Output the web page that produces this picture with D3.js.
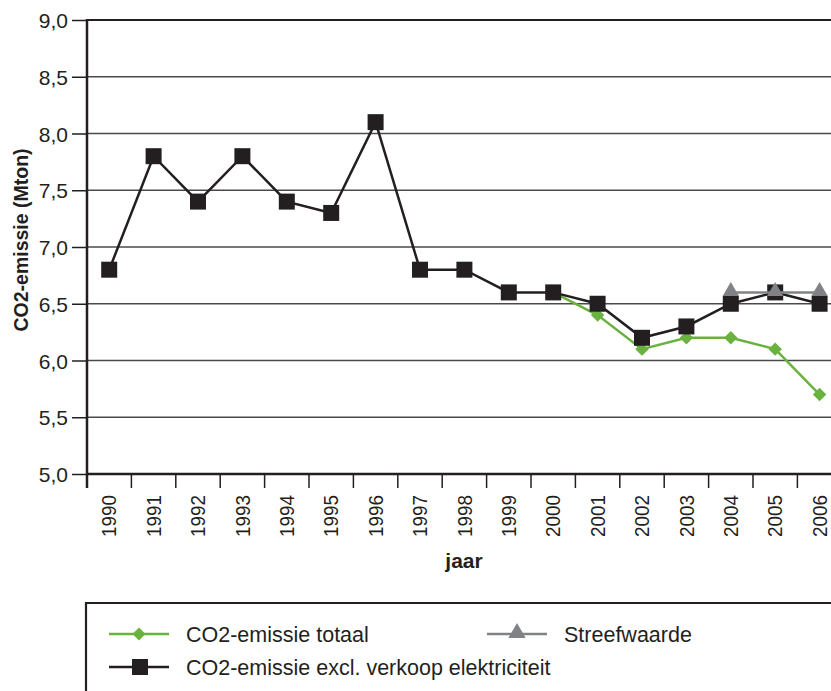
<!DOCTYPE html>
<html><head><meta charset="utf-8">
<script src="https://cdn.jsdelivr.net/npm/d3@7"></script>
<style>
body{margin:0;background:#fff;}
svg{display:block;}
</style></head>
<body>
<svg id="c" width="831" height="691"></svg>
<script>
const years = ["1990","1991","1992","1993","1994","1995","1996","1997","1998","1999","2000","2001","2002","2003","2004","2005","2006"];
const exclValues = [6.8,7.8,7.4,7.8,7.4,7.3,8.1,6.8,6.8,6.6,6.6,6.5,6.2,6.3,6.5,6.6,6.5];
const totaalYears = ["2000","2001","2002","2003","2004","2005","2006"];
const totaalValues = [6.6,6.4,6.1,6.2,6.2,6.1,5.7];
const streefYears = ["2004","2005","2006"];
const streefValues = [6.6,6.6,6.6];
const yTicks = [5.0,5.5,6.0,6.5,7.0,7.5,8.0,8.5,9.0];
const legendLabels = ["CO2-emissie totaal","Streefwaarde","CO2-emissie excl. verkoop elektriciteit"];

const svg = d3.select("#c");
const L = 87, T = 20, B = 474, bw = 44.4;
const x = d3.scaleBand().domain(years).range([L, L + bw*years.length]).padding(0);
const y = d3.scaleLinear().domain([5,9]).range([B, T]);
const font = "'Liberation Sans', Arial, Helvetica, sans-serif";
const dark = "#231f20";

// gridlines
svg.append("g").selectAll("line").data(yTicks.slice(1)).join("line")
  .attr("x1", L).attr("x2", 831).attr("y1", d=>y(d)).attr("y2", d=>y(d))
  .attr("stroke", "#4a4a4a").attr("stroke-width", 1.4);

// y axis
const ya = svg.append("g").attr("transform", `translate(${L},0)`)
  .call(d3.axisLeft(y).tickValues(yTicks).tickSize(15).tickPadding(4)
    .tickFormat(d => d3.format(".1f")(d).replace(".", ",")));
ya.attr("font-size", null).attr("font-family", null);
ya.select(".domain").remove();
ya.selectAll(".tick line").attr("stroke", dark).attr("stroke-width", 1.5);
ya.selectAll(".tick text").style("font-family", font).style("font-size", "21px").attr("fill", dark)
  .attr("dy", "0.36em");

// x axis labels
const xa = svg.append("g").attr("transform", `translate(0,${B})`)
  .call(d3.axisBottom(x).tickSize(0));
xa.attr("font-size", null).attr("font-family", null);
xa.select(".domain").remove();
xa.selectAll(".tick text")
  .style("font-family", font).style("font-size", "20px").attr("fill", dark)
  .attr("transform", "rotate(-90)")
  .attr("text-anchor", "end").attr("x", -21).attr("y", 0).attr("dy", "0.36em")
  .attr("textLength", 42).attr("lengthAdjust", "spacingAndGlyphs");
// x ticks at band boundaries
svg.append("g").selectAll("line").data(years.slice(1)).join("line")
  .attr("x1", d=>x(d)).attr("x2", d=>x(d)).attr("y1", B).attr("y2", B+14)
  .attr("stroke", dark).attr("stroke-width", 1.5);
svg.append("line").attr("x1", L).attr("x2", L).attr("y1", B).attr("y2", B+14)
  .attr("stroke", dark).attr("stroke-width", 2.5);

// axis frame
svg.append("line").attr("x1", L).attr("x2", L).attr("y1", T-1).attr("y2", B+1)
  .attr("stroke", dark).attr("stroke-width", 2.5);
svg.append("line").attr("x1", L).attr("x2", 831).attr("y1", B).attr("y2", B)
  .attr("stroke", dark).attr("stroke-width", 2.5);
svg.append("line").attr("x1", L).attr("x2", 831).attr("y1", T).attr("y2", T)
  .attr("stroke", dark).attr("stroke-width", 2);

// titles
svg.append("text").attr("x", 464).attr("y", 568).attr("text-anchor", "middle")
  .style("font-family", font).attr("font-weight", "bold").style("font-size", "21px")
  .attr("fill", dark).text("jaar");
svg.append("text").attr("transform", "translate(28,240) rotate(-90)")
  .attr("text-anchor", "middle")
  .style("font-family", font).attr("font-weight", "bold").style("font-size", "19.5px")
  .attr("fill", dark).text("CO2-emissie (Mton)");

const cx = d => x(d) + x.bandwidth()/2;
const line = d3.line().x(d => cx(d[0])).y(d => y(d[1]));
const green = "#6ab23e", gray = "#808285";

const totaal = totaalYears.map((d,i)=>[d, totaalValues[i]]);
const excl = years.map((d,i)=>[d, exclValues[i]]);
const streef = streefYears.map((d,i)=>[d, streefValues[i]]);

const sym = (type, size) => d3.symbol().type(type).size(size)();

// green series
svg.append("path").datum(totaal).attr("d", line).attr("fill","none").attr("stroke", green).attr("stroke-width", 2.5);
svg.append("g").selectAll("path").data(totaal).join("path")
  .attr("transform", d=>`translate(${cx(d[0])},${y(d[1])}) rotate(45)`)
  .attr("d", sym(d3.symbolSquare, 90)).attr("fill", green);

// black series
svg.append("path").datum(excl).attr("d", line).attr("fill","none").attr("stroke", dark).attr("stroke-width", 2.5);
svg.append("g").selectAll("path").data(excl).join("path")
  .attr("transform", d=>`translate(${cx(d[0])},${y(d[1])})`)
  .attr("d", sym(d3.symbolSquare, 256)).attr("fill", dark);

// gray series
svg.append("path").datum(streef).attr("d", line).attr("fill","none").attr("stroke", gray).attr("stroke-width", 2.5);
svg.append("g").selectAll("path").data(streef).join("path")
  .attr("transform", d=>`translate(${cx(d[0])},${y(d[1])-1})`)
  .attr("d", sym(d3.symbolTriangle, 115)).attr("fill", gray);

// legend box
svg.append("path").attr("d", "M86,691 V603 H831").attr("fill","none").attr("stroke", dark).attr("stroke-width", 2.2);

const legend = [
  {label: legendLabels[0], color: green, x: 109, y: 634, shape: "diamond"},
  {label: legendLabels[1], color: gray, x: 487, y: 634, shape: "triangle"},
  {label: legendLabels[2], color: dark, x: 109, y: 667, shape: "square"}
];
const lg = svg.append("g").selectAll("g").data(legend).join("g")
  .attr("transform", d=>`translate(${d.x},${d.y})`);
lg.append("line").attr("x1",0).attr("x2",60).attr("y1",0).attr("y2",0)
  .attr("stroke", d=>d.color).attr("stroke-width", 2.5);
lg.append("path")
  .attr("transform", d=> d.shape==="diamond" ? "translate(30,0) rotate(45)" : (d.shape==="triangle" ? "translate(30,-1)" : "translate(31,0)"))
  .attr("d", d=> d.shape==="diamond" ? sym(d3.symbolSquare, 85) : d.shape==="triangle" ? sym(d3.symbolTriangle, 130) : sym(d3.symbolSquare, 256))
  .attr("fill", d=>d.color);
lg.append("text").attr("x", 77).attr("y", 0).attr("dy","0.36em")
  .style("font-family", font).style("font-size", "21.5px").attr("fill", dark)
  .text(d=>d.label);
</script>
</body></html>
